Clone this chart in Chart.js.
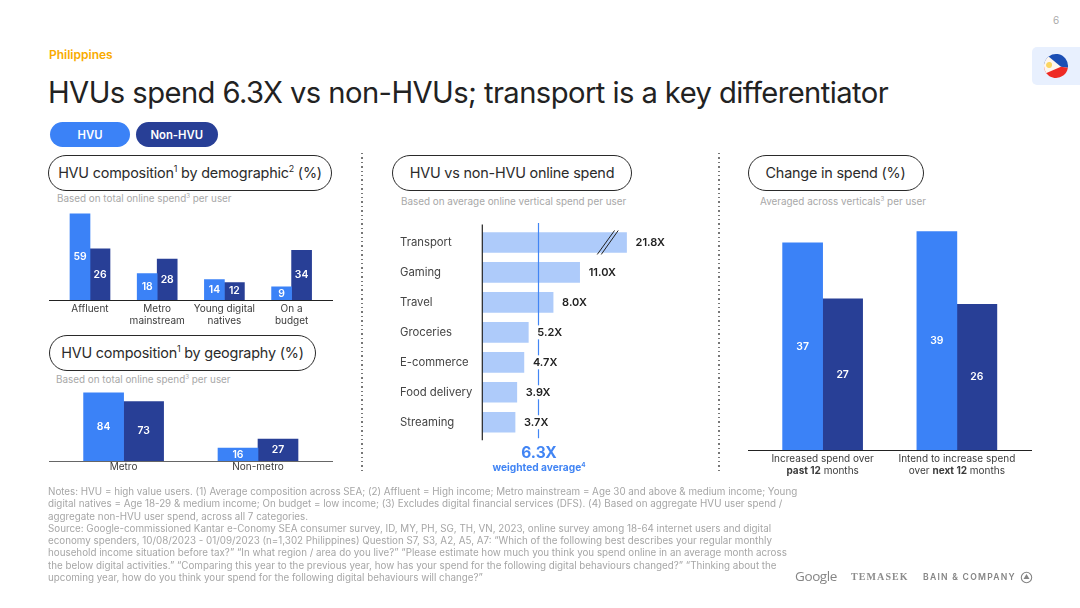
<!DOCTYPE html>
<html>
<head>
<meta charset="utf-8">
<script src="https://cdn.jsdelivr.net/npm/chart.js@4"></script>
<style>
  html, body { margin: 0; padding: 0; background: #fff; }
  body { width: 1080px; height: 608px; position: relative; overflow: hidden; font-family: Inter, sans-serif; color: #222; }
  .abs { position: absolute; white-space: nowrap; }
  canvas { position: absolute; }
  .pill { position: absolute; box-sizing: border-box; border-radius: 18px; display: flex; align-items: center; justify-content: center; white-space: nowrap; }
  .legend { color: #fff; font-size: 11.3px; font-weight: 600; height: 25px; top: 122px; }
  .head { border: 1.3px solid #2a2a2a; height: 35.5px; font-size: 14.4px; letter-spacing: -0.2px; color: #2b2b2b; }
  .sub { color: #a8a8a8; font-size: 9.9px; transform: translateY(-50%); }
  sup { font-size: 62%; line-height: 0; }
  .sep { position: absolute; top: 153px; height: 320px; width: 2px; background: repeating-linear-gradient(to bottom, #777 0, #777 1.4px, transparent 1.4px, transparent 4.4px); }
  #notes { left: 48px; top: 486px; font-size: 9.8px; line-height: 12.3px; color: #a6a6a6; }
</style>
</head>
<body>

<div class="abs" style="left:1053px;top:14px;font-size:10px;color:#aaa">6</div>
<div class="abs" style="left:49px;top:47px;font-size:12px;font-weight:600;color:#F9AB00">Philippines</div>
<div class="abs" id="title" style="left:48px;top:75px;font-size:29.2px;letter-spacing:-0.57px;color:#222">HVUs spend 6.3X vs non-HVUs; transport is a key differentiator</div>

<div style="position:absolute;left:1032px;top:47px;width:48px;height:38px;background:#E8F0FE;border-radius:5px 0 0 5px"></div>
<svg style="position:absolute;left:1043px;top:53px" width="26" height="26" viewBox="0 0 26 26">
  <defs><clipPath id="c"><circle cx="13" cy="13" r="12"/></clipPath></defs>
  <g clip-path="url(#c)" transform="rotate(8 13 13)">
    <rect x="0" y="0" width="26" height="13" fill="#1B4FB5"/>
    <rect x="0" y="13" width="26" height="13" fill="#EE2A24"/>
    <polygon points="0,2 0,24 18,13" fill="#FDF6EE"/>
    <circle cx="6" cy="13" r="3" fill="#FBD560"/>
  </g>
</svg>

<div class="pill legend" style="left:50px;width:80px;background:#3B82F7">HVU</div>
<div class="pill legend" style="left:136px;width:81.5px;background:#283F96">Non-HVU</div>

<div class="pill head" style="left:48px;top:155px;width:284px"><span>HVU composition<sup>1</sup> by demographic<sup>2</sup> (%)</span></div>
<div class="pill head" style="left:49px;top:335px;width:267px"><span>HVU composition<sup>1</sup> by geography (%)</span></div>
<div class="pill head" style="left:392px;top:155px;width:240px"><span>HVU vs non-HVU online spend</span></div>
<div class="pill head" style="left:747.5px;top:155px;width:176px"><span>Change in spend (%)</span></div>

<div class="abs sub" style="left:57px;top:198px">Based on total online spend<sup>3</sup> per user</div>
<div class="abs sub" style="left:56px;top:379px">Based on total online spend<sup>3</sup> per user</div>
<div class="abs sub" style="left:401px;top:201px">Based on average online vertical spend per user</div>
<div class="abs sub" style="left:760px;top:201px">Averaged across verticals<sup>3</sup> per user</div>

<div class="sep" style="left:361px"></div>
<div class="sep" style="left:718px"></div>

<canvas id="demoChart" width="284" height="135" style="left:49px;top:205px"></canvas>
<canvas id="geoChart" width="284" height="96" style="left:49px;top:385px"></canvas>
<canvas id="spendChart" width="300" height="224" style="left:400px;top:220px"></canvas>
<canvas id="changeChart" width="284" height="265" style="left:748px;top:225px"></canvas>

<div class="abs" id="avgValue" style="left:539px;top:452px;transform:translate(-50%,-50%);font-size:15.5px;font-weight:700;color:#4285F4"></div>
<div class="abs" style="left:539px;top:467px;transform:translate(-50%,-50%);font-size:10.2px;font-weight:700;color:#4285F4">weighted average<sup>4</sup></div>

<div class="abs" id="notes">Notes: HVU = high value users. (1) Average composition across SEA; (2) Affluent = High income; Metro mainstream = Age 30 and above &amp; medium income; Young<br>digital natives = Age 18-29 &amp; medium income; On budget = low income; (3) Excludes digital financial services (DFS). (4) Based on aggregate HVU user spend /<br>aggregate non-HVU user spend, across all 7 categories.<br>Source: Google-commissioned Kantar e-Conomy SEA consumer survey, ID, MY, PH, SG, TH, VN, 2023, online survey among 18-64 internet users and digital<br>economy spenders, 10/08/2023 - 01/09/2023 (n=1,302 Philippines) Question S7, S3, A2, A5, A7: “Which of the following best describes your regular monthly<br>household income situation before tax?” “In what region / area do you live?” “Please estimate how much you think you spend online in an average month across<br>the below digital activities.” “Comparing this year to the previous year, how has your spend for the following digital behaviours changed?” “Thinking about the<br>upcoming year, how do you think your spend for the following digital behaviours will change?”</div>

<div class="abs" style="left:795px;top:567px;font-size:13.5px;letter-spacing:-0.4px;color:#858585;font-family:'Open Sans',sans-serif">Google</div>
<div class="abs" style="left:851px;top:571px;font-size:10px;letter-spacing:1.1px;color:#8c8c8c;font-family:'Liberation Serif',serif;font-weight:700">TEMASEK</div>
<div class="abs" style="left:923px;top:572px;font-size:8.6px;letter-spacing:1.25px;color:#858585;font-weight:600">BAIN &amp; COMPANY</div>
<svg style="position:absolute;left:1020px;top:571px" width="13" height="13" viewBox="0 0 13 13">
  <circle cx="6.5" cy="6.5" r="5.2" fill="none" stroke="#858585" stroke-width="1.1"/>
  <polygon points="6.5,3 9.5,8 3.5,8" fill="#858585"/>
</svg>

<script>
const HVU_BLUE = '#3B82F7';
const NAVY = '#283F96';
const LIGHT_BLUE = '#AECBFA';
const FONT = 'Inter, sans-serif';

// left: composition by demographic
const demoLabels = ['Affluent', ['Metro', 'mainstream'], ['Young digital', 'natives'], ['On a', 'budget']];
const demoHvu = [59, 18, 14, 9];
const demoNonHvu = [26, 28, 12, 34];
// the first navy bar is drawn taller than its printed 26 in the reference, so heights and printed numbers are separate
const demoNonHvuHeights = [35, 28, 12, 34];

// left: composition by geography
const geoLabels = ['Metro', 'Non-metro'];
const geoHvu = [84, 16];
const geoNonHvu = [73, 27];

// middle: spend multiple, transport bar has an axis break so it is plotted shorter
const spendLabels = ['Transport', 'Gaming', 'Travel', 'Groceries', 'E-commerce', 'Food delivery', 'Streaming'];
const spendValues = [21.8, 11.0, 8.0, 5.2, 4.7, 3.9, 3.7];
const spendHeights = [16.3, 11.0, 8.0, 5.2, 4.7, 3.9, 3.7];
const weightedAverage = 6.3;

// right: change in spend
const changeLabels = [['Increased spend over', '**past 12** months'], ['Intend to increase spend', 'over **next 12** months']];
const changeHvu = [37, 39];
const changeNonHvu = [27, 26];

document.getElementById('avgValue').textContent = weightedAverage.toFixed(1) + 'X';

// white numbers in the middle of each bar
const barTextPlugin = {
  id: 'barText',
  afterDatasetsDraw(chart) {
    const ctx = chart.ctx;
    ctx.save();
    ctx.fillStyle = '#fff';
    ctx.font = '600 10.4px ' + FONT;
    ctx.textAlign = 'center';
    ctx.textBaseline = 'middle';
    chart.data.datasets.forEach((ds, i) => {
      chart.getDatasetMeta(i).data.forEach((el, j) => {
        ctx.fillText(ds.printed[j], el.x, (el.y + el.base) / 2);
      });
    });
    ctx.restore();
  }
};

// axis line runs a bit past the plot area on both sides
const baselinePlugin = {
  id: 'baseline',
  afterDraw(chart, args, opts) {
    const ctx = chart.ctx;
    ctx.save();
    ctx.strokeStyle = opts.color;
    ctx.lineWidth = 1;
    ctx.beginPath();
    ctx.moveTo(0, chart.chartArea.bottom + 0.5);
    ctx.lineTo(chart.width, chart.chartArea.bottom + 0.5);
    ctx.stroke();
    ctx.restore();
  }
};

function groupedBars(id, labels, hvu, nonHvu, hvuPrinted, nonHvuPrinted, o) {
  return new Chart(document.getElementById(id), {
    type: 'bar',
    data: {
      labels: labels,
      datasets: [
        { data: hvu, printed: hvuPrinted, backgroundColor: HVU_BLUE, barThickness: o.bar },
        { data: nonHvu, printed: nonHvuPrinted, backgroundColor: NAVY, barThickness: o.bar }
      ]
    },
    options: {
      responsive: false,
      animation: false,
      layout: { padding: { left: o.padLeft, right: o.padRight } },
      plugins: { legend: { display: false }, tooltip: { enabled: false }, baseline: { color: o.axisColor } },
      scales: {
        x: {
          grid: { display: false, drawTicks: false },
          border: { display: false },
          afterFit: s => { s.height = o.tickArea; },
          ticks: {
            display: o.ticks !== false,
            color: '#3c3c3c',
            padding: o.tickPad,
            maxRotation: 0,
            autoSkip: false,
            font: { family: FONT, size: 10, lineHeight: 1.2 }
          }
        },
        y: { display: false, min: 0, max: o.max }
      }
    },
    plugins: [barTextPlugin, baselinePlugin].concat(o.extra || [])
  });
}

groupedBars('demoChart', demoLabels, demoHvu, demoNonHvuHeights, demoHvu, demoNonHvu,
  { bar: 20, padLeft: 7.4, padRight: 7.8, tickArea: 40, tickPad: 3, max: 65, axisColor: '#222' });

groupedBars('geoChart', geoLabels, geoHvu, geoNonHvu, geoHvu, geoNonHvu,
  { bar: 40, padLeft: 7.4, padRight: 7.8, tickArea: 20, tickPad: 0, max: 93.5, axisColor: '#666' });

// bold runs are marked with ** so these ticks are drawn here and not by the scale
const mixedTicksPlugin = {
  id: 'mixedTicks',
  afterDraw(chart) {
    const ctx = chart.ctx, xs = chart.scales.x;
    ctx.save();
    ctx.fillStyle = '#3c3c3c';
    ctx.textBaseline = 'middle';
    ctx.textAlign = 'left';
    changeLabels.forEach((lines, i) => {
      lines.forEach((line, k) => {
        const runs = line.split('**');
        const fontFor = r => (r % 2 ? '700 ' : '400 ') + '10px ' + FONT;
        let w = 0;
        runs.forEach((t, r) => { ctx.font = fontFor(r); w += ctx.measureText(t).width; });
        let x = xs.getPixelForValue(i) - w / 2;
        runs.forEach((t, r) => {
          ctx.font = fontFor(r);
          ctx.fillText(t, x, chart.chartArea.bottom + 8.5 + k * 12);
          x += ctx.measureText(t).width;
        });
      });
    });
    ctx.restore();
  }
};

groupedBars('changeChart', changeLabels.map(() => ''), changeHvu, changeNonHvu, changeHvu, changeNonHvu,
  { bar: 40, padLeft: 7.5, padRight: 8, tickArea: 40, tickPad: 0, max: 40.18, axisColor: '#222', ticks: false, extra: [mixedTicksPlugin] });

// axis line, average line, break marks and the value labels of the middle chart
const spendOverlay = {
  id: 'spendOverlay',
  afterDatasetsDraw(chart) {
    const ctx = chart.ctx, area = chart.chartArea, xs = chart.scales.x;
    const bars = chart.getDatasetMeta(0).data;
    ctx.save();

    const avgX = Math.round(xs.getPixelForValue(weightedAverage)) + 0.5;
    ctx.strokeStyle = '#4285F4';
    ctx.lineWidth = 1.2;
    ctx.beginPath();
    ctx.moveTo(avgX, area.top - 4.5);
    ctx.lineTo(avgX, area.bottom + 1);
    ctx.stroke();

    ctx.font = '600 11px ' + FONT;
    ctx.textBaseline = 'middle';
    ctx.textAlign = 'left';
    bars.forEach((el, i) => {
      const txt = spendValues[i].toFixed(1) + 'X';
      const w = ctx.measureText(txt).width;
      ctx.fillStyle = '#fff';
      ctx.fillRect(el.x + 8.5, el.y - 7, w + 3, 14);
      ctx.fillStyle = '#222';
      ctx.fillText(txt, el.x + 9, el.y);
    });

    ctx.strokeStyle = '#222';
    ctx.lineWidth = 1;
    const top = bars[0];
    [[-29.3, -12], [-25.3, -8.3]].forEach(p => {
      ctx.beginPath();
      ctx.moveTo(top.x + p[0], top.y + 12);
      ctx.lineTo(top.x + p[1], top.y - 12);
      ctx.stroke();
    });

    ctx.strokeStyle = '#222';
    ctx.lineWidth = 1.2;
    ctx.beginPath();
    ctx.moveTo(area.left, area.top - 3);
    ctx.lineTo(area.left, area.bottom + 3);
    ctx.stroke();
    ctx.restore();
  }
};

new Chart(document.getElementById('spendChart'), {
  type: 'bar',
  data: {
    labels: spendLabels,
    datasets: [{ data: spendHeights, backgroundColor: LIGHT_BLUE, barThickness: 20 }]
  },
  options: {
    indexAxis: 'y',
    responsive: false,
    animation: false,
    layout: { padding: { top: 7.5, bottom: 6.5 } },
    plugins: { legend: { display: false }, tooltip: { enabled: false } },
    scales: {
      x: { display: false, min: 0, max: 24.6 },
      y: {
        grid: { display: false },
        border: { display: false },
        afterFit: s => { s.width = 82.3; },
        ticks: { color: '#444', padding: 0, crossAlign: 'far', autoSkip: false, font: { family: FONT, size: 11.3 } }
      }
    }
  },
  plugins: [spendOverlay]
});
</script>
</body>
</html>
